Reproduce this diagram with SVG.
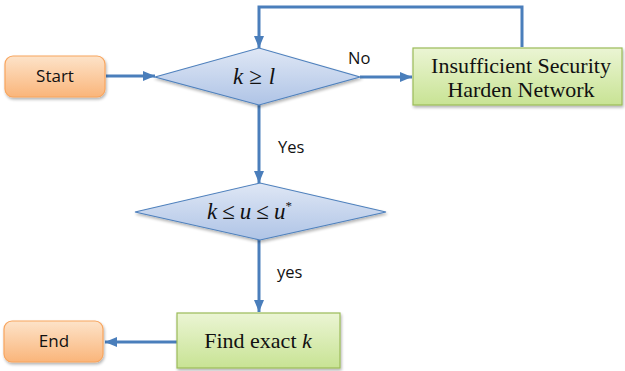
<svg xmlns="http://www.w3.org/2000/svg" width="625" height="371" viewBox="0 0 625 371">
  <defs>
    <linearGradient id="gOrange" x1="0" y1="0" x2="0" y2="1">
      <stop offset="0" stop-color="#fde3c9"/>
      <stop offset="1" stop-color="#fab57a"/>
    </linearGradient>
    <linearGradient id="gGreen" x1="0" y1="0" x2="0" y2="1">
      <stop offset="0" stop-color="#ebf5d4"/>
      <stop offset="1" stop-color="#c8e394"/>
    </linearGradient>
    <linearGradient id="gBlue" x1="0" y1="0" x2="0" y2="1">
      <stop offset="0" stop-color="#dfe7f5"/>
      <stop offset="1" stop-color="#afc4e6"/>
    </linearGradient>
    <filter id="shadow" x="-10%" y="-10%" width="125%" height="135%">
      <feGaussianBlur in="SourceAlpha" stdDeviation="1.5"/>
      <feOffset dx="1" dy="2" result="b"/>
      <feComponentTransfer><feFuncA type="linear" slope="0.3"/></feComponentTransfer>
      <feMerge><feMergeNode/><feMergeNode in="SourceGraphic"/></feMerge>
    </filter>
    <marker id="arrow" viewBox="0 0 12 10" refX="12" refY="5" markerWidth="12" markerHeight="10" markerUnits="userSpaceOnUse" orient="auto">
      <path d="M0,0 L12,5 L0,10 Z" fill="#4a7ebb"/>
    </marker>
  </defs>
  <style>
    .term { fill: url(#gOrange); stroke: #f8a55e; stroke-width: 1.2; filter: url(#shadow); }
    .proc { fill: url(#gGreen); stroke: #9bbb59; stroke-width: 1.2; filter: url(#shadow); }
    .dec { fill: url(#gBlue); stroke: #4f81bd; stroke-width: 1.2; filter: url(#shadow); }
    .conn { fill: none; stroke: #4a7ebb; stroke-width: 3; marker-end: url(#arrow); }
    .sans { font-family: "Open Sans", "Liberation Sans", sans-serif; font-size: 17px; fill: #111; }
    .label { font-family: "Open Sans", "Liberation Sans", sans-serif; font-size: 16.5px; fill: #111; }
    .serif { font-family: "Liberation Serif", "DejaVu Serif", serif; font-size: 22px; fill: #111; }
    .math { font-family: "Liberation Serif", "DejaVu Serif", serif; font-size: 23px; fill: #111; }
    .it { font-style: italic; }
  </style>

  <g id="connectors">
    <line class="conn" x1="106" y1="76" x2="155" y2="76"/>
    <line class="conn" x1="360" y1="77" x2="412" y2="77"/>
    <polyline class="conn" points="522,47 522,7 259,7 259,48"/>
    <line class="conn" x1="259" y1="105" x2="259" y2="183"/>
    <line class="conn" x1="259" y1="240" x2="259" y2="312"/>
    <line class="conn" x1="177" y1="342" x2="105" y2="342"/>
    <text class="label" x="348" y="64">No</text>
    <text class="label" x="278" y="153">Yes</text>
    <text class="label" x="277" y="278">yes</text>
  </g>

  <g id="start">
    <rect class="term" x="5" y="56" width="100" height="41" rx="8"/>
    <text class="sans" x="55" y="82" text-anchor="middle">Start</text>
  </g>

  <g id="check-k-l">
    <polygon class="dec" points="155,77 259,48 360,77 259,105"/>
    <text class="math" x="233" y="84"><tspan class="it">k</tspan><tspan dx="6">≥</tspan><tspan class="it" dx="7">l</tspan></text>
  </g>

  <g id="harden">
    <rect class="proc" x="413" y="48" width="209" height="57"/>
    <text class="serif" x="521" y="73" text-anchor="middle">Insufficient Security</text>
    <text class="serif" x="521" y="97" text-anchor="middle">Harden Network</text>
  </g>

  <g id="check-u">
    <polygon class="dec" points="135,212 260,183 386,212 260,240"/>
    <text class="math" x="207" y="219"><tspan class="it">k</tspan><tspan dx="5">≤</tspan><tspan class="it" dx="5">u</tspan><tspan dx="5">≤</tspan><tspan class="it" dx="5">u</tspan><tspan font-size="13" dy="-9">*</tspan></text>
  </g>

  <g id="find">
    <rect class="proc" x="177" y="313" width="163" height="55"/>
    <text class="serif" x="258" y="348" text-anchor="middle">Find exact <tspan class="it">k</tspan></text>
  </g>

  <g id="end">
    <rect class="term" x="4" y="321" width="99" height="41" rx="8"/>
    <text class="sans" x="54" y="347" text-anchor="middle">End</text>
  </g>
</svg>
